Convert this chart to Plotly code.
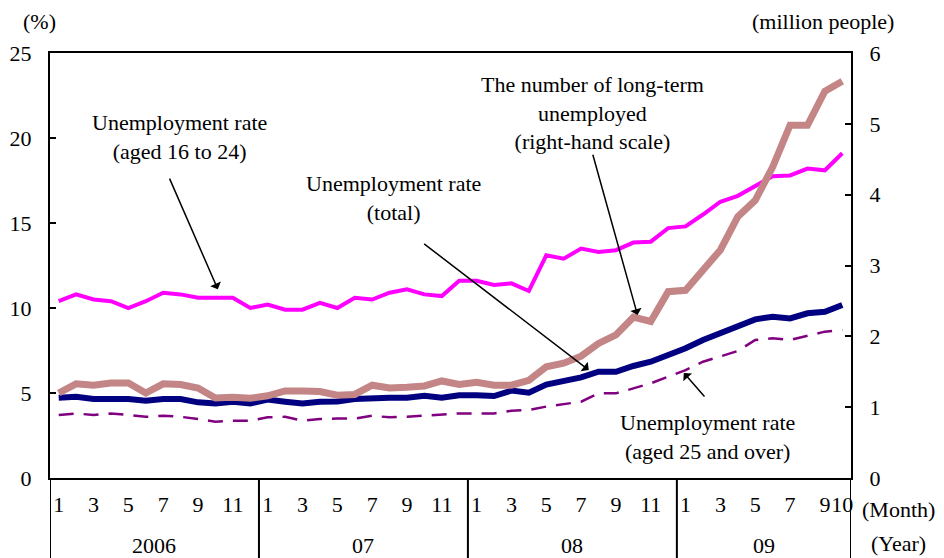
import plotly.graph_objects as go

# monthly data, Jan 2006 - Oct 2009
years = ['2006', '07', '08', '09']
months_per_year = [12, 12, 12, 10]
months = list(range(1, 13)) * 3 + list(range(1, 11))

# unemployment rate aged 16 to 24 (%)
youth = [10.4, 10.8, 10.5, 10.4, 10.0, 10.4, 10.9, 10.8, 10.6, 10.6, 10.6, 10.0,
         10.2, 9.9, 9.9, 10.3, 10.0, 10.6, 10.5, 10.9, 11.1, 10.8, 10.7, 11.6,
         11.6, 11.35, 11.45, 11.0, 13.1, 12.9, 13.5, 13.3, 13.4, 13.85, 13.9, 14.7,
         14.8, 15.5, 16.25, 16.6, 17.2, 17.75, 17.8, 18.2, 18.1, 19.1]
# unemployment rate total (%)
total = [4.72, 4.78, 4.65, 4.65, 4.65, 4.55, 4.65, 4.65, 4.45, 4.39, 4.49, 4.39,
         4.61, 4.49, 4.39, 4.49, 4.5, 4.65, 4.72, 4.72, 4.72, 4.84, 4.72, 4.87,
         4.87, 4.82, 5.14, 5.02, 5.5, 5.67, 5.92, 6.25, 6.25, 6.59, 6.84, 7.24,
         7.63, 8.12, 8.51, 8.86, 9.33, 9.49, 9.39, 9.69, 9.78, 10.18]
# unemployment rate aged 25 and over (%)
adult = [3.7, 3.8, 3.7, 3.8, 3.7, 3.6, 3.66, 3.6, 3.47, 3.31, 3.37, 3.37,
         3.57, 3.6, 3.37, 3.47, 3.5, 3.5, 3.66, 3.57, 3.6, 3.66, 3.7, 3.8,
         3.8, 3.8, 3.96, 4.0, 4.2, 4.35, 4.49, 4.98, 4.98, 5.27, 5.57, 5.96,
         6.35, 6.84, 7.14, 7.47, 8.12, 8.22, 8.12, 8.35, 8.61, 8.7]
# long-term unemployed (million people, right-hand scale)
longterm = [1.2, 1.33, 1.31, 1.34, 1.34, 1.2, 1.33, 1.32, 1.27, 1.13, 1.14, 1.125,
            1.16, 1.23, 1.23, 1.22, 1.17, 1.18, 1.31, 1.27, 1.28, 1.30, 1.37, 1.32,
            1.35, 1.31, 1.31, 1.38, 1.57, 1.62, 1.72, 1.9, 2.02, 2.27, 2.21, 2.63,
            2.65, 2.94, 3.22, 3.69, 3.92, 4.39, 4.98, 4.98, 5.46, 5.6]

FONT = 'Liberation Serif'
FS = 22
x = list(range(len(months)))

fig = go.Figure()
fig.add_trace(go.Scatter(x=x, y=longterm, yaxis='y2', mode='lines',
                         line=dict(color='#C38585', width=7)))
fig.add_trace(go.Scatter(x=x, y=youth, mode='lines',
                         line=dict(color='#FF00FF', width=4)))
fig.add_trace(go.Scatter(x=x, y=total, mode='lines',
                         line=dict(color='#000080', width=6)))
fig.add_trace(go.Scatter(x=x, y=adult, mode='lines',
                         line=dict(color='#800080', width=2.5, dash='15px,10px')))

# month ticks: odd months, plus the last month
tickvals = [i for i, m in enumerate(months) if m % 2 == 1 or i == len(months) - 1]
ticktext = [str(months[i]) for i in tickvals]

# year dividers below the plot and year labels
shapes = []
annotations = []
start = 0
bounds = [-0.5]
for yr, n in zip(years, months_per_year):
    annotations.append(dict(x=start + (n - 1) / 2, y=-0.158, xref='x', yref='paper',
                            text=yr, showarrow=False, xanchor='center', yanchor='middle'))
    start += n
    bounds.append(start - 0.5)
for b in bounds:
    shapes.append(dict(type='line', xref='x', yref='paper', x0=b, x1=b, y0=0, y1=-0.2,
                       line=dict(color='black', width=2)))

# axis unit labels
units = [
    (-0.0125, 1.073, '(%)'),
    (0.965, 1.073, '(million people)'),
    (1.059, -0.075, '(Month)'),
    (1.059, -0.154, '(Year)'),
]
for ux, uy, txt in units:
    annotations.append(dict(x=ux, y=uy, xref='paper', yref='paper', text=txt,
                            showarrow=False, xanchor='center', yanchor='middle'))

# series labels
labels = [
    (6.96, 20.06, 'Unemployment rate<br>(aged 16 to 24)'),
    (19.25, 16.5, 'Unemployment rate<br>(total)'),
    (30.66, 21.5, 'The number of long-term<br>unemployed<br>(right-hand scale)'),
    (37.27, 2.4, 'Unemployment rate<br>(aged 25 and over)'),
]
for lx, ly, txt in labels:
    annotations.append(dict(x=lx, y=ly, xref='x', yref='y', text=txt, showarrow=False,
                            xanchor='center', yanchor='middle'))

# arrows (tail -> tip)
arrows = [
    (6.33, 17.7, 9.14, 11.1),
    (20.9, 13.84, 30.44, 6.35),
    (30.65, 19.1, 33.24, 9.59),
    (37.16, 4.7, 35.9, 6.18),
]
for tx, ty, hx, hy in arrows:
    annotations.append(dict(x=hx, y=hy, ax=tx, ay=ty, xref='x', yref='y', axref='x', ayref='y',
                            text='', showarrow=True, arrowhead=1, arrowsize=1.3,
                            arrowwidth=1.5, arrowcolor='black'))

fig.update_layout(
    width=944, height=558,
    paper_bgcolor='white', plot_bgcolor='white',
    font=dict(family=FONT, size=FS, color='black'),
    showlegend=False,
    margin=dict(l=50, r=93, t=53, b=80),
    xaxis=dict(range=[-0.5, 45.5], tickvals=tickvals, ticktext=ticktext, tickangle=0,
               showgrid=False, zeroline=False, showline=True, mirror=True,
               linecolor='black', linewidth=2, ticks='', ticklabelstandoff=6,
               automargin=False),
    yaxis=dict(range=[0, 25], dtick=5, showgrid=False, zeroline=False, showline=True,
               linecolor='black', linewidth=2, ticks='inside', ticklen=6, tickwidth=2,
               tickcolor='black', ticklabelstandoff=12, automargin=False),
    yaxis2=dict(range=[0, 6], dtick=1, overlaying='y', side='right', showgrid=False,
                zeroline=False, showline=True, linecolor='black', linewidth=2,
                ticks='inside', ticklen=6, tickwidth=2, tickcolor='black',
                ticklabelstandoff=12, automargin=False),
    shapes=shapes,
    annotations=annotations,
)

# drop the page's default body margin so the chart sits at the window corner
fig.write_html('out.html', config={'displayModeBar': False},
               post_script="document.body.style.margin='0';")
